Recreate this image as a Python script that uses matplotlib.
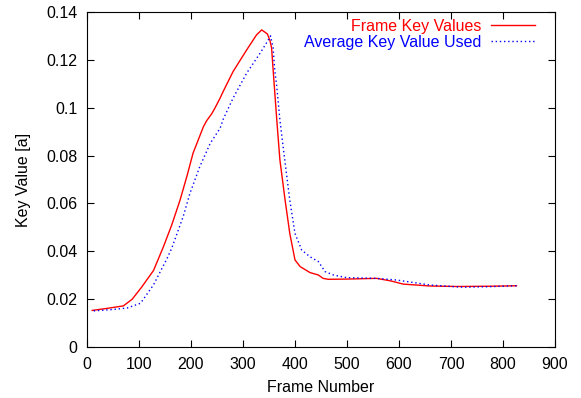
import matplotlib
matplotlib.use("Agg")
import matplotlib.pyplot as plt

frame_red = [10, 40, 70, 87, 105, 128, 147, 163, 179, 193, 204, 224, 230, 240, 246, 256, 262,
             281, 307, 326, 336, 347, 352, 355, 358, 365, 371, 381, 390, 400, 410, 429,
             445, 454, 464, 500, 557, 585, 608, 660, 711, 770, 826]
key_red = [0.0153, 0.0162, 0.0172, 0.0200, 0.0250, 0.0320, 0.0419, 0.0510, 0.0614, 0.0720,
           0.0810, 0.0921, 0.0945, 0.0975, 0.0998, 0.1040, 0.1068, 0.1151, 0.1241, 0.1304,
           0.1325, 0.1308, 0.1280, 0.1250, 0.1158, 0.0949, 0.0782, 0.0614, 0.0475, 0.0364,
           0.0336, 0.0311, 0.0301, 0.0287, 0.0283, 0.0284, 0.0287, 0.0276, 0.0263, 0.0255,
           0.0253, 0.0254, 0.0256]

frame_blue = [13, 50, 77, 103, 128, 154, 163, 185, 198, 217, 237, 256, 262, 281, 307, 333,
              347, 353, 358, 361, 365, 371, 378, 390, 400, 413, 429, 445, 458, 474, 499,
              557, 596, 660, 723, 770, 826]
key_blue = [0.0151, 0.0157, 0.0163, 0.0183, 0.0260, 0.0370, 0.0413, 0.0545, 0.0642, 0.0754,
            0.0851, 0.0914, 0.0952, 0.1040, 0.1144, 0.1228, 0.1277, 0.1300, 0.1250, 0.1158,
            0.1088, 0.0949, 0.0823, 0.0614, 0.0475, 0.0405, 0.0377, 0.0357, 0.0315, 0.0301,
            0.0290, 0.0287, 0.0280, 0.0259, 0.0250, 0.0252, 0.0256]

x_ticks = [0, 100, 200, 300, 400, 500, 600, 700, 800, 900]
y_ticks = [0, 0.02, 0.04, 0.06, 0.08, 0.1, 0.12, 0.14]
y_tick_labels = ["0", "0.02", "0.04", "0.06", "0.08", "0.1", "0.12", "0.14"]

plt.rcParams['font.family'] = ['Liberation Sans', 'DejaVu Sans']
plt.rcParams['font.size'] = 11.5

fig = plt.figure(figsize=(5.81, 3.98), dpi=100)
ax = fig.add_axes([0.1497, 0.128, 0.8055, 0.842])

ax.plot(frame_red, key_red, color='#ff0000', lw=1.0, label='Frame Key Values')
ax.plot(frame_blue, key_blue, color='#0000ff', lw=1.0, linestyle=(0, (1, 2)),
        label='Average Key Value Used')

ax.set_xlim(0, 900)
ax.set_ylim(0, 0.14)
ax.set_xticks(x_ticks)
ax.set_yticks(y_ticks)
ax.set_yticklabels(y_tick_labels)
ax.tick_params(direction='in', top=True, right=True, length=5, width=0.8, pad=7)
for s in ax.spines.values():
    s.set_linewidth(0.8)

ax.set_xlabel('Frame Number', labelpad=6)
ax.set_ylabel('Key Value [a]', labelpad=11)

leg = ax.legend(loc='upper right', bbox_to_anchor=(0.97, 0.998), frameon=False,
                markerfirst=False, labelcolor='linecolor', handlelength=2.7,
                borderaxespad=0.0, labelspacing=0.05, handletextpad=0.65, fontsize=11.5)
for t in leg.get_texts():
    t.set_ha('right')

fig.savefig('out.png', dpi=100)
